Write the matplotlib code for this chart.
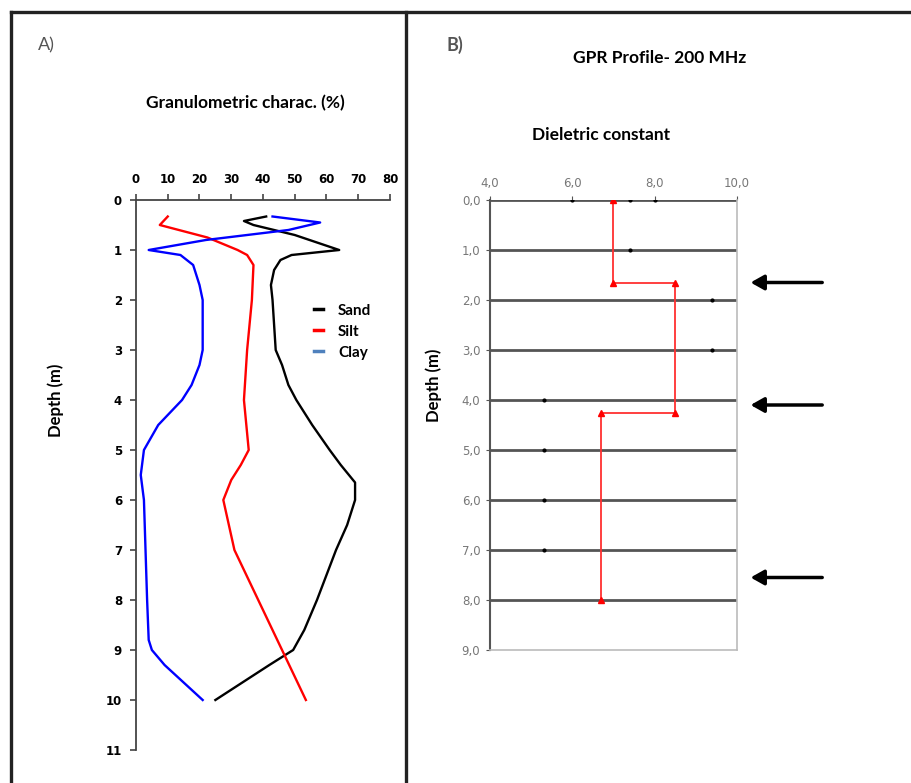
import matplotlib
matplotlib.use("Agg")
import matplotlib.pyplot as plt
from matplotlib.lines import Line2D

W, H = 912, 783

# --- A) granulometry (depth in m, percentage)
sand_depth = [0.33, 0.42, 0.5, 0.7, 1.0, 1.1, 1.2, 1.4, 1.7, 2.0, 3.0, 3.3, 3.7, 4.0, 4.5, 5.0, 5.3, 5.65, 6.0, 6.5, 7.0, 8.0, 8.6, 9.0, 9.3, 10.0]
sand_pct = [41, 34, 37, 50, 64, 49, 45.5, 43.5, 42.5, 43, 44, 46, 48, 50.5, 55.5, 61, 64.5, 69, 69, 66.5, 63, 57, 53, 49.5, 42, 25]

silt_depth = [0.33, 0.5, 0.75, 1.0, 1.1, 1.3, 2.0, 3.0, 4.0, 5.0, 5.3, 5.6, 6.0, 7.0, 8.0, 8.6, 9.0, 10.0]
silt_pct = [10, 7.5, 22.5, 32, 35, 37, 36.5, 35, 34, 35.5, 33, 30, 27.5, 31, 38.5, 43, 46, 53.5]

clay_depth = [0.33, 0.45, 0.6, 0.8, 1.0, 1.1, 1.3, 1.7, 2.0, 3.0, 3.3, 3.7, 4.0, 4.5, 5.0, 5.5, 6.0, 7.0, 8.0, 8.8, 9.0, 9.3, 10.0]
clay_pct = [43, 58, 48, 22, 4, 14, 18, 20, 21, 21, 20, 17.5, 14.5, 7, 2.5, 1.5, 2.5, 3, 3.5, 4, 5, 9, 21]

pct_ticks = [0, 10, 20, 30, 40, 50, 60, 70, 80]
depth_ticks_a = list(range(0, 12))

# --- B) GPR dielectric constant
gpr_eps = [7.0, 7.0, 8.5, 8.5, 6.7, 6.7]
gpr_depth = [0.0, 1.65, 1.65, 4.25, 4.25, 8.0]
dot_eps = [6.0, 7.4, 8.0, 7.4, 9.4, 9.4, 5.3, 5.3, 5.3, 5.3]
dot_depth = [0, 0, 0, 1, 2, 3, 4, 5, 6, 7]
arrow_depth = [1.65, 4.1, 7.55]
eps_ticks = [4.0, 6.0, 8.0, 10.0]
depth_ticks_b = list(range(0, 10))

font = "Lato"

fig = plt.figure(figsize=(W / 100, H / 100), dpi=100)
fig.patch.set_facecolor("white")


def px_axes(x0, y0, x1, y1):
    return fig.add_axes([x0 / W, 1 - y1 / H, (x1 - x0) / W, (y1 - y0) / H])


# ---------- panel A
ax = px_axes(136, 200, 390, 750)
ax.plot(sand_pct, sand_depth, color="black", lw=1.7)
ax.plot(silt_pct, silt_depth, color="#ff0000", lw=1.7)
ax.plot(clay_pct, clay_depth, color="#0000ff", lw=1.7)
ax.set_xlim(0, 80)
ax.set_ylim(11, 0)
ax.xaxis.tick_top()
ax.set_xticks(pct_ticks)
ax.set_yticks(depth_ticks_a)
ax.spines["right"].set_visible(False)
ax.spines["bottom"].set_visible(False)
for s in ("left", "top"):
    ax.spines[s].set_color("#444444")
    ax.spines[s].set_linewidth(1.3)
ax.tick_params(axis="both", direction="out", length=4, width=1.2, color="#444444",
               labelsize=8.5, pad=6)
for lab in ax.get_xticklabels() + ax.get_yticklabels():
    lab.set_fontweight("heavy")
    lab.set_family("DejaVu Sans")
ax.set_ylabel("Depth (m)", fontsize=12, fontweight="bold", family=font)
ax.yaxis.set_label_coords((64 - 136) / 254, (750 - 400) / 550)

handles = [Line2D([], [], color="black", lw=2.5),
           Line2D([], [], color="#ff0000", lw=2.5),
           Line2D([], [], color="#4f81bd", lw=2.5)]
ax.legend(handles, ["Sand", "Silt", "Clay"], loc="upper left",
          bbox_to_anchor=((300 - 136) / 254, (750 - 290) / 550),
          frameon=False, handlelength=0.6, handletextpad=1.0,
          labelspacing=0.45, prop={"family": font, "weight": "bold", "size": 11})

# ---------- panel B
bx = px_axes(490, 200, 737, 650)
for d in depth_ticks_b[:-1]:
    bx.axhline(d, color="#555555", lw=2, zorder=1)
bx.plot(dot_eps, dot_depth, "o", color="black", ms=2, zorder=2)
bx.plot(gpr_eps, gpr_depth, color="#ff3030", lw=1.3, marker="^", ms=4,
        mfc="#ff0000", mec="#ff0000", zorder=3)
bx.set_xlim(4, 10)
bx.set_ylim(9, 0)
bx.xaxis.tick_top()
bx.set_xticks(eps_ticks)
bx.set_xticklabels([f"{v:.1f}".replace(".", ",") for v in eps_ticks])
bx.set_yticks(depth_ticks_b)
bx.set_yticklabels([f"{v:.1f}".replace(".", ",") for v in depth_ticks_b])
bx.spines["top"].set_visible(False)
bx.spines["left"].set_color("#555555")
bx.spines["left"].set_linewidth(1.5)
for s in ("right", "bottom"):
    bx.spines[s].set_color("#bbbbbb")
    bx.spines[s].set_linewidth(1.2)
bx.tick_params(axis="both", direction="out", length=3, color="#555555",
               labelsize=8.5, labelcolor="#777777", pad=4)
for lab in bx.get_xticklabels() + bx.get_yticklabels():
    lab.set_family("DejaVu Sans")
bx.set_ylabel("Depth (m)", fontsize=12, fontweight="bold", family=font)
bx.yaxis.set_label_coords((442 - 490) / 247, (650 - 385) / 450)

for d in arrow_depth:
    bx.annotate("", xy=(1.055, d), xytext=(1.345, d),
                xycoords=("axes fraction", "data"), textcoords=("axes fraction", "data"),
                arrowprops=dict(arrowstyle="-|>,head_length=0.8,head_width=0.45",
                                color="black", lw=2.5, shrinkA=0, shrinkB=0),
                annotation_clip=False)

# ---------- titles and frame
def ftext(x, y, s, **kw):
    fig.text(x / W, 1 - y / H, s, family=font, **kw)


ftext(38, 45, "A)", fontsize=13, color="#555555", va="center")
ftext(447, 45, "B)", fontsize=13, color="#555555", va="center", fontweight="bold")
ftext(660, 58, "GPR Profile- 200 MHz", fontsize=12.5, fontweight="bold", ha="center", va="center")
ftext(245, 103, "Granulometric charac. (%)", fontsize=12.5, fontweight="bold", ha="center", va="center")
ftext(601, 135, "Dieletric constant", fontsize=12.5, fontweight="bold", ha="center", va="center")

frame = dict(color="#222222", lw=2.4, transform=fig.transFigure)
fig.add_artist(Line2D([11 / W, 1], [1 - 12 / H, 1 - 12 / H], **frame))
fig.add_artist(Line2D([11 / W, 11 / W], [0, 1 - 12 / H], **frame))
fig.add_artist(Line2D([406 / W, 406 / W], [0, 1 - 12 / H], **frame))

fig.savefig("out.png", dpi=100)
